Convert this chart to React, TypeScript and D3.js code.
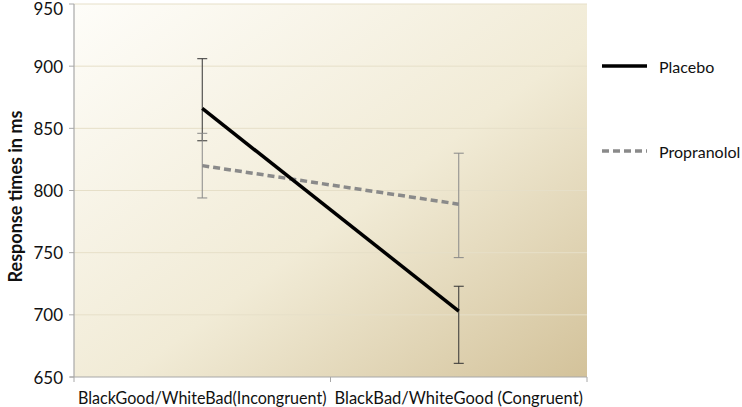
import * as d3 from 'd3';

const categories = ['BlackGood/WhiteBad(Incongruent)', 'BlackBad/WhiteGood (Congruent)'];
const yTicks = [650, 700, 750, 800, 850, 900, 950];

const placeboMean = [866, 703];
const placeboUpper = [906, 723];
const placeboLower = [840, 661];

const propranololMean = [820, 789];
const propranololUpper = [846, 830];
const propranololLower = [794, 746];

const width = 742;
const height = 407;
const marginLeft = 74;
const marginRight = 155;
const marginTop = 4;
const marginBottom = 30;

export default function App() {
  const x = d3
    .scaleBand<string>()
    .domain(categories)
    .range([marginLeft, width - marginRight]);
  const y = d3
    .scaleLinear()
    .domain([650, 950])
    .range([height - marginBottom, marginTop]);

  const cx = (i: number) => (x(categories[i]) ?? 0) + x.bandwidth() / 2;
  const line = d3
    .line<number>()
    .x((_, i) => cx(i))
    .y((d) => y(d));

  const series = [
    {
      name: 'Placebo',
      mean: placeboMean,
      upper: placeboUpper,
      lower: placeboLower,
      color: '#000',
      dash: undefined as string | undefined,
      barColor: '#333',
      legendY: 66,
    },
    {
      name: 'Propranolol',
      mean: propranololMean,
      upper: propranololUpper,
      lower: propranololLower,
      color: '#8a8a8a',
      dash: '7,4',
      barColor: '#888',
      legendY: 151,
    },
  ];

  const x0 = marginLeft;
  const x1 = width - marginRight;
  const font = "Lato, Carlito, 'Open Sans', sans-serif";

  return (
    <svg
      width={width}
      height={height}
      style={{ position: 'absolute', left: 0, top: 0, background: '#fff' }}
      fontFamily={font}
    >
      <defs>
        <linearGradient id='bg' x1='0' y1='0' x2='1' y2='1'>
          <stop offset='0' stopColor='#fefdf9' />
          <stop offset='0.55' stopColor='#f1ebd6' />
          <stop offset='1' stopColor='#d3c29a' />
        </linearGradient>
      </defs>
      <rect
        x={x0}
        y={y(950)}
        width={x1 - x0}
        height={y(650) - y(950)}
        fill='url(#bg)'
      />
      {yTicks.slice(1).map((t) => (
        <line
          key={t}
          x1={x0}
          x2={x1}
          y1={y(t)}
          y2={y(t)}
          stroke='#e6dfc8'
          strokeWidth={1}
        />
      ))}
      {/* axes */}
      <line x1={x0} x2={x0} y1={y(950)} y2={y(650)} stroke='#a8a8a8' strokeWidth={1.2} />
      <line x1={x0 - 4} x2={x1} y1={y(650)} y2={y(650)} stroke='#a8a8a8' strokeWidth={1.2} />
      {yTicks.map((t) => (
        <g key={t}>
          <line x1={x0 - 5} x2={x0} y1={y(t)} y2={y(t)} stroke='#a8a8a8' />
          <text
            x={x0 - 11}
            y={Math.max(y(t), 8)}
            textAnchor='end'
            dominantBaseline='central'
            fontSize={17}
            fill='#111'
          >
            {t}
          </text>
        </g>
      ))}
      {[x0, x0 + x.step(), x1].map((t, i) => (
        <line key={i} x1={t} x2={t} y1={y(650)} y2={y(650) + 5} stroke='#a8a8a8' />
      ))}
      {categories.map((c) => (
        <text
          key={c}
          x={(x(c) ?? 0) + x.bandwidth() / 2}
          y={397}
          textAnchor='middle'
          dominantBaseline='central'
          fontSize={17}
          fill='#111'
          textLength={x.bandwidth() - 8}
          lengthAdjust='spacingAndGlyphs'
        >
          {c}
        </text>
      ))}
      <text
        transform={`translate(15,${(y(950) + y(650)) / 2 + 6}) rotate(-90)`}
        textAnchor='middle'
        dominantBaseline='central'
        fontSize={18}
        fontWeight='bold'
        fill='#111'
      >
        Response times in ms
      </text>

      {/* error bars */}
      {series.map((s) =>
        s.mean.map((_, i) => (
          <g key={s.name + i} stroke={s.barColor} strokeWidth={1}>
            <line x1={cx(i)} x2={cx(i)} y1={y(s.upper[i])} y2={y(s.lower[i])} />
            <line x1={cx(i) - 5} x2={cx(i) + 5} y1={y(s.upper[i])} y2={y(s.upper[i])} />
            <line x1={cx(i) - 5} x2={cx(i) + 5} y1={y(s.lower[i])} y2={y(s.lower[i])} />
          </g>
        )),
      )}

      {/* lines, propranolol below placebo */}
      {[...series].reverse().map((s) => (
        <path
          key={s.name}
          d={line(s.mean) ?? ''}
          fill='none'
          stroke={s.color}
          strokeWidth={3.5}
          strokeDasharray={s.dash}
        />
      ))}

      {/* legend */}
      {series.map((s) => (
        <g key={s.name}>
          <line
            x1={602}
            x2={647}
            y1={s.legendY}
            y2={s.legendY}
            stroke={s.color}
            strokeWidth={3.5}
            strokeDasharray={s.dash}
          />
          <text
            x={659}
            y={s.legendY}
            dominantBaseline='central'
            fontSize={16}
            fill='#111'
          >
            {s.name}
          </text>
        </g>
      ))}
    </svg>
  );
}
